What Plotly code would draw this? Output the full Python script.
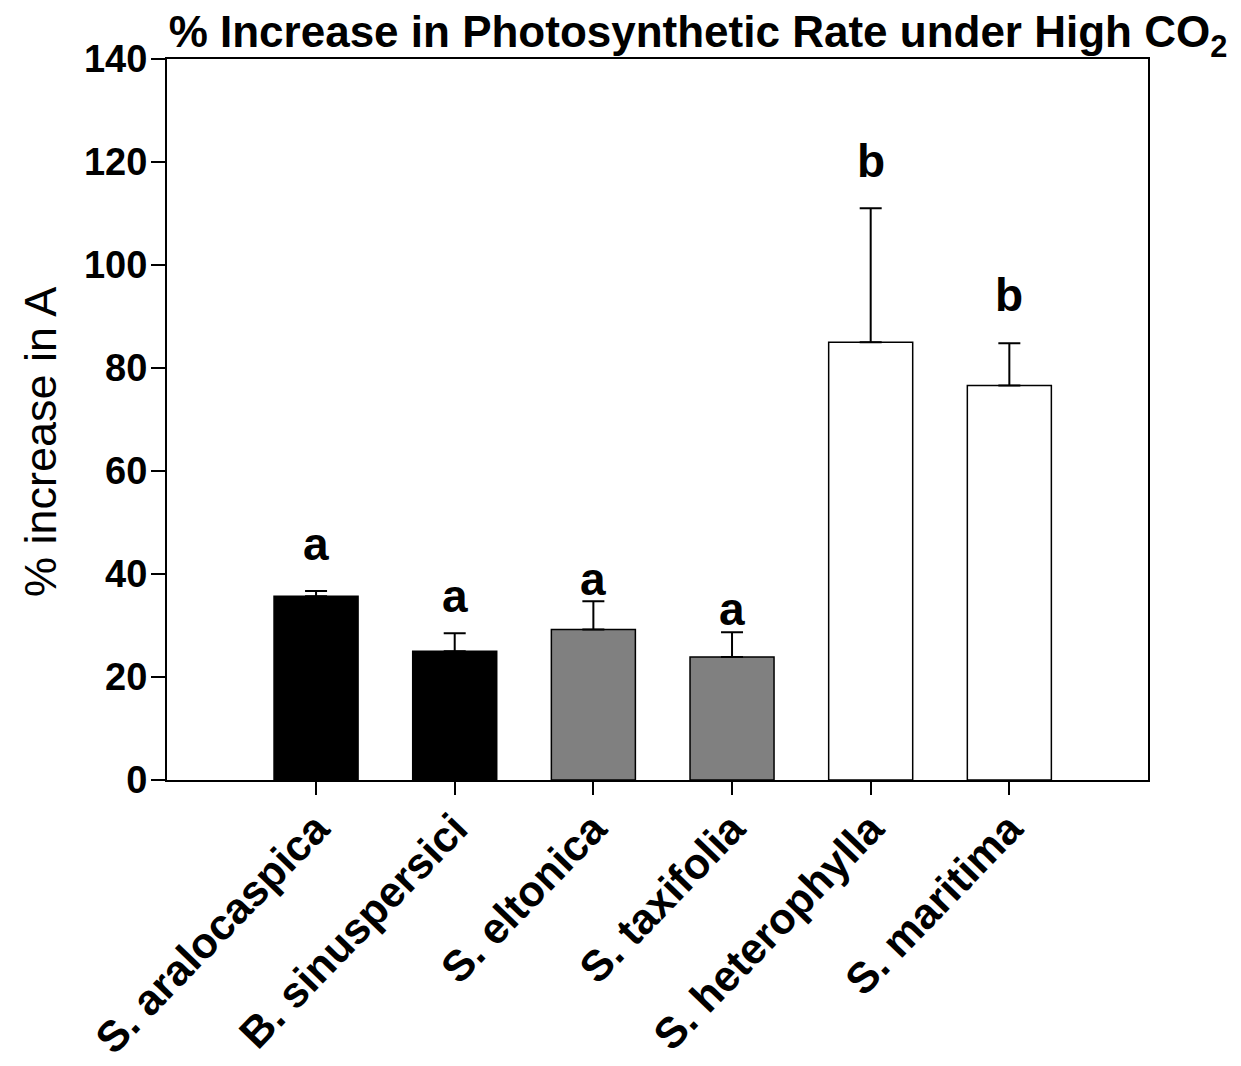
import plotly.graph_objects as go

species = ["S. aralocaspica", "B. sinuspersici", "S. eltonica", "S. taxifolia", "S. heterophylla", "S. maritima"]
values = [35.7, 25.0, 29.2, 23.9, 85.0, 76.6]
errors = [1.0, 3.5, 5.5, 4.8, 26.0, 8.2]
colors = ["#000000", "#000000", "#808080", "#808080", "#ffffff", "#ffffff"]
letters = ["a", "a", "a", "a", "b", "b"]
letter_y = [45.8, 35.7, 39.1, 33.2, 120.2, 94.1]
yticks = [0, 20, 40, 60, 80, 100, 120, 140]

FONT = "Liberation Sans"

fig = go.Figure()
fig.add_trace(go.Bar(
    x=species, y=values,
    width=0.606,
    marker=dict(color=colors, line=dict(color="black", width=1.5)),
    error_y=dict(type="data", array=errors, arrayminus=[0]*len(errors),
                 symmetric=False, color="black", thickness=2, width=11),
    showlegend=False,
))

for s, l, ly in zip(species, letters, letter_y):
    fig.add_annotation(x=s, y=ly, text="<b>" + l + "</b>", showarrow=False,
                       xref="x", yref="y", yanchor="middle",
                       font=dict(family=FONT, size=46, color="black"))

fig.add_annotation(xref="paper", yref="paper", x=(40-167)/981, y=(780-442)/721,
                   text="% increase in A", textangle=-90, showarrow=False,
                   xanchor="center", yanchor="middle",
                   font=dict(family=FONT, size=45, color="black"))

fig.update_layout(
    width=1241, height=1066,
    margin=dict(l=167, r=93, t=59, b=286),
    plot_bgcolor="white", paper_bgcolor="white",
    title=dict(text="<b>% Increase in Photosynthetic Rate under High CO<sub>2</sub></b>",
               x=698/1241, xanchor="center", xref="container",
               y=1-32/1066, yanchor="middle", yref="container",
               font=dict(family=FONT, size=44, color="black")),
    font=dict(family=FONT, color="black"),
)
fig.update_xaxes(
    range=[-1.075, 6.0], automargin=False,
    showline=True, linecolor="black", linewidth=2, mirror=True,
    ticks="outside", ticklen=13, tickwidth=1.5, tickcolor="black",
    tickangle=-46, showgrid=False, ticklabelstandoff=-9,
    tickfont=dict(family=FONT, size=43, weight="bold", color="black"),
)
fig.update_yaxes(
    range=[0, 140], tickvals=yticks, automargin=False,
    showline=True, linecolor="black", linewidth=2, mirror=True,
    ticks="outside", ticklen=14, tickwidth=1.5, tickcolor="black",
    showgrid=False, zeroline=False, ticklabelstandoff=-4,
    tickfont=dict(family=FONT, size=38, weight="bold", color="black"),
)

fig.write_html("out.html")
